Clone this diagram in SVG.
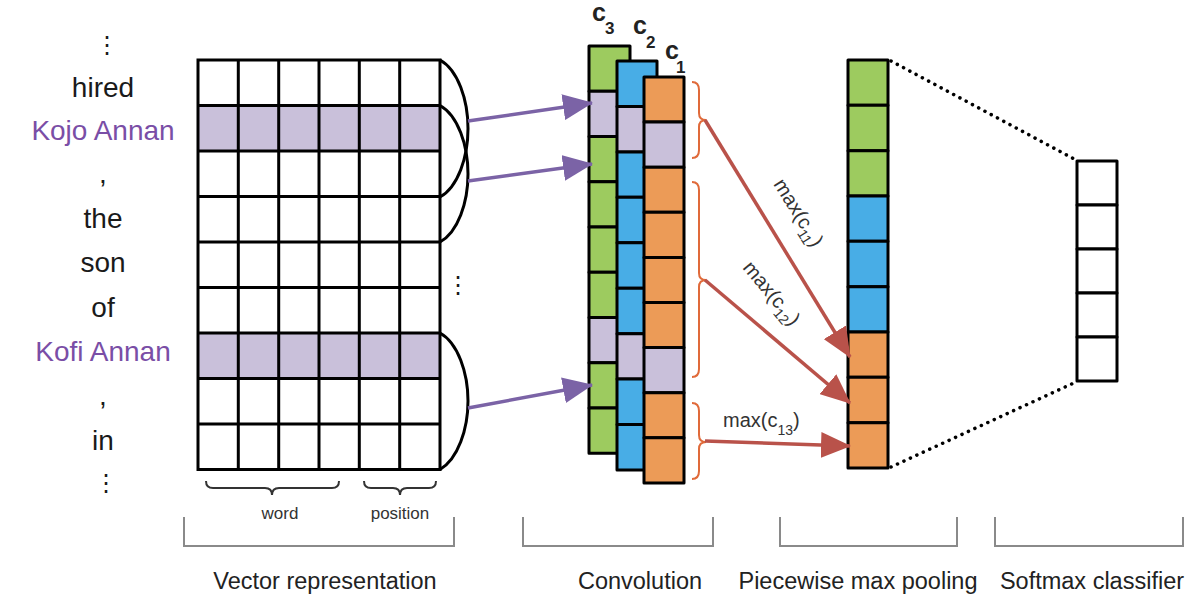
<svg xmlns="http://www.w3.org/2000/svg" width="1190" height="610" viewBox="0 0 1190 610">
<defs>
<style>
.w{font-family:"Liberation Sans",Arial,sans-serif;font-size:28px;fill:#1a1a1a;text-anchor:middle}
.p{fill:#7a4ea6}
.dots{font-family:"DejaVu Sans",sans-serif;font-size:24px;fill:#1a1a1a;text-anchor:middle}
.cl{font-family:"Liberation Sans",Arial,sans-serif;font-weight:bold;fill:#222}
.ml{font-family:"Liberation Sans",Arial,sans-serif;font-size:20px;fill:#333}
.bl{font-family:"Liberation Sans",Arial,sans-serif;font-size:23.5px;fill:#222;text-anchor:middle}
.sl{font-family:"Liberation Sans",Arial,sans-serif;font-size:17px;fill:#333;text-anchor:middle}
.cell{stroke:#000;stroke-width:3;stroke-linejoin:round}
.g{fill:#9dcb5f}.b{fill:#48ade6}.o{fill:#ec9b57}.l{fill:#c9c0da}.wh{fill:#fff}
.gl{stroke:#000;stroke-width:3;fill:none;stroke-linecap:square}
.arc{stroke:#000;stroke-width:3;fill:none}
.pa{stroke:#7b63a6;stroke-width:3.5;fill:none}
.ra{stroke:#b9524a;stroke-width:3.5;fill:none}
.br{stroke:#e06a3a;stroke-width:2;fill:none}
.sb{stroke:#333;stroke-width:2;fill:none}
.gb{stroke:#8a8a8a;stroke-width:2;fill:none}
.dl{stroke:#000;stroke-width:3.5;fill:none;stroke-dasharray:0.1 7;stroke-linecap:round}
</style>
<marker id="ap" markerUnits="userSpaceOnUse" markerWidth="30" markerHeight="26" refX="29" refY="13" orient="auto"><path d="M0,0 L30,13 L0,26 z" fill="#7b63a6"/></marker>
<marker id="ar" markerUnits="userSpaceOnUse" markerWidth="30" markerHeight="26" refX="29" refY="13" orient="auto"><path d="M0,0 L30,13 L0,26 z" fill="#b9524a"/></marker>
</defs>
<rect width="1190" height="610" fill="#fff"/>

<g id="words">
<text class="dots" x="107" y="53">⋮</text>
<text class="w" x="103" y="97">hired</text>
<text class="w p" x="103" y="140">Kojo Annan</text>
<text class="w" x="103" y="183">,</text>
<text class="w" x="103" y="228">the</text>
<text class="w" x="103" y="272">son</text>
<text class="w" x="103" y="317">of</text>
<text class="w p" x="103" y="361">Kofi Annan</text>
<text class="w" x="103" y="405">,</text>
<text class="w" x="103" y="450">in</text>
<text class="dots" x="106" y="491">⋮</text>
</g>

<g id="grid">
<rect x="198" y="105.5" width="242" height="45.5" class="l"/>
<rect x="198" y="333" width="242" height="45.5" class="l"/>
<path class="gl" d="M198,60H440M198,105.5H440M198,151H440M198,196.5H440M198,242H440M198,287.5H440M198,333H440M198,378.5H440M198,424H440M198,469.5H440M198,60V469.5M238.3,60V469.5M278.7,60V469.5M319,60V469.5M359.3,60V469.5M399.7,60V469.5M440,60V469.5"/>
<text class="dots" x="458" y="293">⋮</text>
</g>

<g id="grid-braces">
<path class="sb" d="M206,481 Q206,488 213,488 L265,488 Q272,488 272,495 Q272,488 279,488 L332,488 Q339,488 339,481"/>
<path class="sb" d="M364,481 Q364,488 371,488 L393,488 Q400,488 400,495 Q400,488 407,488 L429,488 Q436,488 436,481"/>
<text class="sl" x="280" y="519">word</text>
<text class="sl" x="400" y="519">position</text>
</g>

<g id="conv-c3">
<rect class="cell g" x="589" y="46" width="41" height="45.25"/>
<rect class="cell l" x="589" y="91.25" width="41" height="45.25"/>
<rect class="cell g" x="589" y="136.5" width="41" height="45.25"/>
<rect class="cell g" x="589" y="181.75" width="41" height="45.25"/>
<rect class="cell g" x="589" y="227" width="41" height="45.25"/>
<rect class="cell g" x="589" y="272.25" width="41" height="45.25"/>
<rect class="cell l" x="589" y="317.5" width="41" height="45.25"/>
<rect class="cell g" x="589" y="362.75" width="41" height="45.25"/>
<rect class="cell g" x="589" y="408" width="41" height="45.25"/>
<text class="cl" x="592" y="21" font-size="25">c<tspan font-size="17" x="605" y="34">3</tspan></text>
</g>
<g id="conv-c2">
<rect class="cell b" x="617" y="61" width="40" height="45.44"/>
<rect class="cell l" x="617" y="106.44" width="40" height="45.44"/>
<rect class="cell b" x="617" y="151.88" width="40" height="45.44"/>
<rect class="cell b" x="617" y="197.32" width="40" height="45.44"/>
<rect class="cell b" x="617" y="242.76" width="40" height="45.44"/>
<rect class="cell b" x="617" y="288.2" width="40" height="45.44"/>
<rect class="cell l" x="617" y="333.64" width="40" height="45.44"/>
<rect class="cell b" x="617" y="379.08" width="40" height="45.44"/>
<rect class="cell b" x="617" y="424.52" width="40" height="45.44"/>
<text class="cl" x="633" y="34" font-size="25">c<tspan font-size="17" x="646" y="48">2</tspan></text>
</g>
<g id="conv-c1">
<rect class="cell o" x="644" y="77" width="40" height="45.1"/>
<rect class="cell l" x="644" y="122.1" width="40" height="45.1"/>
<rect class="cell o" x="644" y="167.2" width="40" height="45.1"/>
<rect class="cell o" x="644" y="212.3" width="40" height="45.1"/>
<rect class="cell o" x="644" y="257.4" width="40" height="45.1"/>
<rect class="cell o" x="644" y="302.5" width="40" height="45.1"/>
<rect class="cell l" x="644" y="347.6" width="40" height="45.1"/>
<rect class="cell o" x="644" y="392.7" width="40" height="45.1"/>
<rect class="cell o" x="644" y="437.8" width="40" height="45.1"/>
<text class="cl" x="665" y="59" font-size="25">c<tspan font-size="17" x="676" y="73">1</tspan></text>
</g>

<g id="pooling">
<rect class="cell g" x="848" y="60" width="40" height="45.33"/>
<rect class="cell g" x="848" y="105.33" width="40" height="45.33"/>
<rect class="cell g" x="848" y="150.67" width="40" height="45.33"/>
<rect class="cell b" x="848" y="196" width="40" height="45.33"/>
<rect class="cell b" x="848" y="241.33" width="40" height="45.33"/>
<rect class="cell b" x="848" y="286.67" width="40" height="45.33"/>
<rect class="cell o" x="848" y="332" width="40" height="45.33"/>
<rect class="cell o" x="848" y="377.33" width="40" height="45.33"/>
<rect class="cell o" x="848" y="422.67" width="40" height="45.33"/>
</g>

<g id="softmax">
<rect class="cell wh" x="1077" y="161" width="40" height="44"/>
<rect class="cell wh" x="1077" y="205" width="40" height="44"/>
<rect class="cell wh" x="1077" y="249" width="40" height="44"/>
<rect class="cell wh" x="1077" y="293" width="40" height="44"/>
<rect class="cell wh" x="1077" y="337" width="40" height="44"/>
</g>

<g id="connectors">
<path class="arc" d="M440,60 C458,70 468,100 468,128.5 C468,157 458,187 440,197"/>
<path class="arc" d="M440,105.5 C458,115.5 468,145.5 468,174 C468,202.5 458,232 440,242"/>
<path class="arc" d="M440,333 C458,343 468,373 468,401 C468,429 458,459 440,469.5"/>
<line class="pa" x1="468" y1="121" x2="592" y2="103" marker-end="url(#ap)"/>
<line class="pa" x1="468" y1="181" x2="592" y2="164" marker-end="url(#ap)"/>
<line class="pa" x1="468" y1="408" x2="592" y2="385" marker-end="url(#ap)"/>
<path class="br" d="M692,82 Q699,82 699,90 L699,113 Q699,120 706,120 Q699,120 699,127 L699,150 Q699,158 692,158"/>
<path class="br" d="M692,182 Q699,182 699,190 L699,273 Q699,280 706,280 Q699,280 699,287 L699,369 Q699,377 692,377"/>
<path class="br" d="M692,403 Q699,403 699,411 L699,435 Q699,442 706,442 Q699,442 699,449 L699,471 Q699,479 692,479"/>
<line class="ra" x1="705" y1="120" x2="850" y2="357" marker-end="url(#ar)"/>
<line class="ra" x1="705" y1="280" x2="850" y2="403" marker-end="url(#ar)"/>
<line class="ra" x1="705" y1="441" x2="850" y2="446" marker-end="url(#ar)"/>
<line class="dl" x1="891" y1="61" x2="1076" y2="160"/>
<line class="dl" x1="891" y1="467" x2="1076" y2="382"/>
</g>

<g id="max-labels">
<text class="ml" transform="translate(773,184) rotate(58)">max(c<tspan font-size="14" dy="6">11</tspan><tspan dy="-6">)</tspan></text>
<text class="ml" transform="translate(742,268) rotate(50)">max(c<tspan font-size="14" dy="6">12</tspan><tspan dy="-6">)</tspan></text>
<text class="ml" x="723" y="427">max(c<tspan font-size="14" dy="8">13</tspan><tspan dy="-8">)</tspan></text>
</g>

<g id="stage-labels">
<path class="gb" d="M184,517 V546 H454 V517"/>
<path class="gb" d="M523,517 V546 H713 V517"/>
<path class="gb" d="M780,517 V546 H957 V517"/>
<path class="gb" d="M995,517 V546 H1183 V517"/>
<text class="bl" x="325" y="589">Vector representation</text>
<text class="bl" x="640" y="589">Convolution</text>
<text class="bl" x="858" y="589">Piecewise max pooling</text>
<text class="bl" x="1092" y="589">Softmax classifier</text>
</g>
</svg>
